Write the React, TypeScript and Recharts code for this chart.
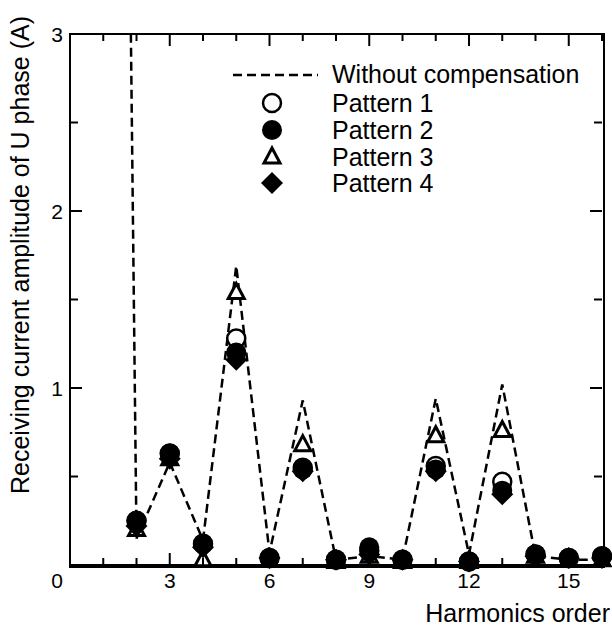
import React from 'react';
import { ComposedChart, Line, XAxis, YAxis } from 'recharts';

const orders = [1, 2, 3, 4, 5, 6, 7, 8, 9, 10, 11, 12, 13, 14, 15, 16];
// harmonic 1 is the fundamental, far above the axis range (clipped)
const withoutComp = [17.0, 0.15, 0.58, 0.14, 1.69, 0.07, 0.93, 0.03, 0.05, 0.03, 0.94, 0.06, 1.02, 0.05, 0.03, 0.03];

// patterns start at harmonic 2
const pattern1 = [0.25, 0.63, 0.12, 1.28, 0.04, 0.55, 0.03, 0.08, 0.03, 0.56, 0.02, 0.47, 0.06, 0.04, 0.05];
const pattern2 = [0.25, 0.63, 0.12, 1.2, 0.04, 0.54, 0.03, 0.1, 0.03, 0.54, 0.02, 0.42, 0.06, 0.04, 0.05];
const pattern3 = [0.2, 0.6, 0.03, 1.54, 0.03, 0.68, 0.02, 0.05, 0.02, 0.73, 0.02, 0.76, 0.05, 0.03, 0.03];
const pattern4 = [0.22, 0.6, 0.1, 1.16, 0.04, 0.53, 0.03, 0.06, 0.03, 0.53, 0.02, 0.4, 0.05, 0.04, 0.04];

const xTicks = [0, 1, 2, 3, 4, 5, 6, 7, 8, 9, 10, 11, 12, 13, 14, 15, 16];
const yTicks = [0, 0.5, 1, 1.5, 2, 2.5, 3];
const X_MAX = 16;
const Y_MAX = 3;

const FONT = '"Liberation Sans", Arial, sans-serif';
const W = 612;
const H = 628;
const LEFT_W = 70;
const BOTTOM_H = 63;
const TOP_H = 34;
const RIGHT_W = 10;
const PLOT_LEFT = LEFT_W;
const PLOT_RIGHT = W - RIGHT_W;
const PLOT_TOP = TOP_H;
const PLOT_BOTTOM = H - BOTTOM_H;

const data = orders.map((n, i) => ({
  order: n,
  noComp: withoutComp[i],
  p1: i === 0 ? null : pattern1[i - 1],
  p2: i === 0 ? null : pattern2[i - 1],
  p3: i === 0 ? null : pattern3[i - 1],
  p4: i === 0 ? null : pattern4[i - 1],
}));

const isMajorX = (v: number) => v % 3 === 0;
const isMajorY = (v: number) => Number.isInteger(v);

const BottomTick = (props: any) => {
  const { x, y, payload } = props;
  const v = payload.value;
  const len = isMajorX(v) ? 12 : 7;
  return (
    <g>
      <line x1={x} x2={x} y1={y} y2={y - len} stroke="#000" strokeWidth={2} />
      {isMajorX(v) && v !== 16 && (
        <text x={v === 0 ? x - 13 : x} y={y + 23} textAnchor="middle" fontSize={21} fontFamily={FONT} fill="#000">
          {v}
        </text>
      )}
    </g>
  );
};

const LeftTick = (props: any) => {
  const { x, y, payload } = props;
  const v = payload.value;
  const len = isMajorY(v) ? 12 : 8;
  return (
    <g>
      <line x1={x} x2={x + len} y1={y} y2={y} stroke="#000" strokeWidth={2} />
      {isMajorY(v) && v !== 0 && (
        <text x={x - 13} y={y + 8} textAnchor="middle" fontSize={21} fontFamily={FONT} fill="#000">
          {v}
        </text>
      )}
    </g>
  );
};

const OpenCircle = ({ cx, cy }: { cx: number; cy: number }) => (
  <circle cx={cx} cy={cy} r={9} fill="#fff" stroke="#000" strokeWidth={2.5} />
);
const FilledCircle = ({ cx, cy }: { cx: number; cy: number }) => <circle cx={cx} cy={cy} r={10} fill="#000" />;
const Triangle = ({ cx, cy }: { cx: number; cy: number }) => (
  <polygon
    points={`${cx},${cy - 9} ${cx - 8},${cy + 6} ${cx + 8},${cy + 6}`}
    fill="#fff"
    stroke="#000"
    strokeWidth={3}
  />
);
const Diamond = ({ cx, cy }: { cx: number; cy: number }) => (
  <polygon points={`${cx},${cy - 11} ${cx + 11},${cy} ${cx},${cy + 11} ${cx - 11},${cy}`} fill="#000" />
);

const makeDot = (Shape: React.FC<{ cx: number; cy: number }>) => (props: any) => {
  const { cx, cy, value, index } = props;
  if (value == null || cy == null) return <g key={`d-${index}`} />;
  return (
    <g key={`d-${index}`}>
      <Shape cx={cx} cy={cy} />
    </g>
  );
};

const legendRows = [
  { label: 'Pattern 1', Shape: OpenCircle, y: 103 },
  { label: 'Pattern 2', Shape: FilledCircle, y: 130 },
  { label: 'Pattern 3', Shape: Triangle, y: 157 },
  { label: 'Pattern 4', Shape: Diamond, y: 183 },
];

const toPx = (v: number) => PLOT_LEFT + (v / X_MAX) * (PLOT_RIGHT - PLOT_LEFT);
const toPy = (v: number) => PLOT_BOTTOM - (v / Y_MAX) * (PLOT_BOTTOM - PLOT_TOP);

// plot frame as a plain bordered box
const Frame = () => (
  <div
    style={{
      position: 'absolute',
      left: PLOT_LEFT - 1,
      top: PLOT_TOP - 1,
      width: PLOT_RIGHT - PLOT_LEFT,
      height: PLOT_BOTTOM - PLOT_TOP,
      border: '2px solid #000',
      pointerEvents: 'none',
    }}
  />
);

const Overlay = () => (
  <svg width={W} height={H} style={{ position: 'absolute', left: 0, top: 0, pointerEvents: 'none' }}>
    <g>
      {xTicks.map((v) => (
        <path
          key={`tx-${v}`}
          d={`M${toPx(v)},${PLOT_TOP} V${PLOT_TOP + (isMajorX(v) ? 12 : 7)}`}
          stroke="#000"
          strokeWidth={2}
          fill="none"
        />
      ))}
      {yTicks.map((v) => (
        <path
          key={`ty-${v}`}
          d={`M${PLOT_RIGHT},${toPy(v)} H${PLOT_RIGHT - (isMajorY(v) ? 12 : 8)}`}
          stroke="#000"
          strokeWidth={2}
          fill="none"
        />
      ))}
    </g>
    <line x1={233} x2={318} y1={75} y2={75} stroke="#000" strokeWidth={2.5} strokeDasharray="9 5" />
    <text x={332} y={83} fontSize={25} fontFamily={FONT} fill="#000">
      Without compensation
    </text>
    {legendRows.map(({ label, Shape, y }) => (
      <g key={label}>
        <Shape cx={272} cy={y} />
        <text x={332} y={y + 9} fontSize={25} fontFamily={FONT} fill="#000">
          {label}
        </text>
      </g>
    ))}
    <text
      x={29}
      y={255}
      transform="rotate(-90, 29, 255)"
      textAnchor="middle"
      fontSize={25}
      fontFamily={FONT}
      fill="#000"
    >
      Receiving current amplitude of U phase (A)
    </text>
    <text x={610} y={622} textAnchor="end" fontSize={25} fontFamily={FONT} fill="#000">
      Harmonics order
    </text>
  </svg>
);

export default function App() {
  return (
    <div style={{ position: 'absolute', left: 0, top: 0, width: W, height: H, background: '#fff' }}>
      <ComposedChart width={W} height={H} data={data} margin={{ top: 0, right: 0, bottom: 0, left: 0 }}>
        <XAxis
          xAxisId="bottom"
          dataKey="order"
          type="number"
          domain={[0, X_MAX]}
          ticks={xTicks}
          interval={0}
          height={BOTTOM_H}
          tickSize={0}
          tickMargin={0}
          tick={<BottomTick />}
          axisLine={{ stroke: '#000', strokeWidth: 2 }}
        />
        <XAxis
          xAxisId="top"
          orientation="top"
          dataKey="order"
          type="number"
          domain={[0, X_MAX]}
          height={TOP_H}
          tick={false}
          tickLine={false}
          axisLine={false}
        />
        <YAxis
          yAxisId="left"
          type="number"
          domain={[0, Y_MAX]}
          allowDataOverflow
          ticks={yTicks}
          interval={0}
          width={LEFT_W}
          tickSize={0}
          tickMargin={0}
          tick={<LeftTick />}
          axisLine={{ stroke: '#000', strokeWidth: 2 }}
        />
        <YAxis
          yAxisId="right"
          orientation="right"
          type="number"
          domain={[0, Y_MAX]}
          width={RIGHT_W}
          tick={false}
          tickLine={false}
          axisLine={false}
        />
        <Line
          xAxisId="bottom"
          yAxisId="left"
          dataKey="noComp"
          stroke="#000"
          strokeWidth={2.5}
          strokeDasharray="9 5"
          dot={false}
          activeDot={false}
          isAnimationActive={false}
        />
        <Line xAxisId="top" yAxisId="right" dataKey="p3" stroke="none" dot={makeDot(Triangle)} activeDot={false} isAnimationActive={false} />
        <Line xAxisId="top" yAxisId="right" dataKey="p1" stroke="none" dot={makeDot(OpenCircle)} activeDot={false} isAnimationActive={false} />
        <Line xAxisId="top" yAxisId="right" dataKey="p2" stroke="none" dot={makeDot(FilledCircle)} activeDot={false} isAnimationActive={false} />
        <Line xAxisId="top" yAxisId="right" dataKey="p4" stroke="none" dot={makeDot(Diamond)} activeDot={false} isAnimationActive={false} />
      </ComposedChart>
      <Frame />
      <Overlay />
    </div>
  );
}
